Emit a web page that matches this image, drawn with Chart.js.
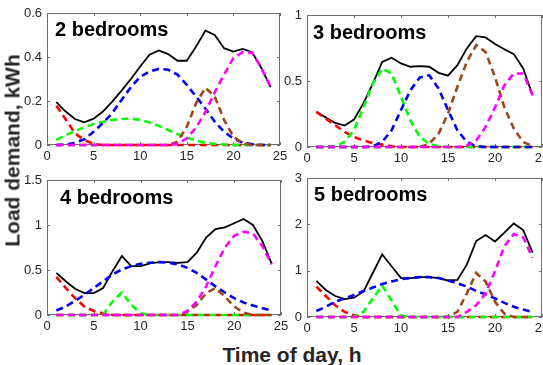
<!DOCTYPE html>
<html>
<head>
<meta charset="utf-8">
<script src="https://cdn.jsdelivr.net/npm/chart.js@4.4.1/dist/chart.umd.min.js"></script>
<style>
  html, body { margin:0; padding:0; width:543px; height:365px; overflow:hidden; background:#fff; }
  canvas { position:absolute; }
  .title { position:absolute; font-family:'Liberation Sans', Arial, sans-serif; font-weight:bold; font-size:20px; line-height:20px; color:#000; white-space:nowrap; }
  .axlabel { position:absolute; font-family:'Liberation Sans', Arial, sans-serif; font-weight:bold; font-size:21px; line-height:21px; color:#262626; white-space:nowrap; text-align:center; }
</style>
</head>
<body>
<canvas id="c1"></canvas>
<canvas id="c2"></canvas>
<canvas id="c3"></canvas>
<canvas id="c4"></canvas>
<div class="title" style="left:55px; top:19px;">2 bedrooms</div>
<div class="title" style="left:313px; top:22px;">3 bedrooms</div>
<div class="title" style="left:60px; top:187px;">4 bedrooms</div>
<div class="title" style="left:314px; top:184px;">5 bedrooms</div>
<div class="axlabel" style="left:-138px; top:140px; width:300px; transform:rotate(-90deg);">Load demand, kWh</div>
<div class="axlabel" style="left:142px; top:344px; width:300px;">Time of day, h</div>
<script>
const hours = [1,2,3,4,5,6,7,8,9,10,11,12,13,14,15,16,17,18,19,20,21,22,23,24];
const xTicks = [0,5,10,15,20,25];

// 2 bedrooms
const total2   = [0.195,0.152,0.118,0.103,0.12,0.152,0.197,0.247,0.30,0.357,0.41,0.43,0.413,0.383,0.383,0.448,0.52,0.50,0.44,0.425,0.437,0.422,0.35,0.263];
const red2     = [0.178,0.117,0.053,0.023,0.005,0,0,0,0,0,0,0,0,0,0,0,0,0,0,0,0,0,0,0];
const green2   = [0.023,0.045,0.064,0.08,0.096,0.106,0.114,0.118,0.12,0.114,0.102,0.087,0.068,0.05,0.033,0.02,0.01,0.005,0.002,0,0,0,0,0];
const blue2    = [0,0.002,0.01,0.026,0.06,0.1,0.145,0.205,0.263,0.31,0.334,0.346,0.342,0.32,0.273,0.22,0.165,0.106,0.06,0.03,0.01,0.004,0,0];
const brown2   = [0,0,0,0,0,0,0,0,0,0,0,0,0,0.015,0.083,0.19,0.26,0.22,0.114,0.038,0.008,0,0,0];
const magenta2 = [0,0,0,0,0,0,0,0,0,0,0,0,0,0.005,0.03,0.08,0.15,0.24,0.32,0.395,0.422,0.42,0.35,0.263];

// 3 bedrooms
const total3   = [0.266,0.223,0.182,0.162,0.208,0.33,0.48,0.645,0.676,0.633,0.608,0.613,0.608,0.562,0.54,0.62,0.747,0.84,0.83,0.78,0.74,0.704,0.595,0.392];
const red3     = [0.266,0.215,0.165,0.114,0.076,0.05,0.03,0.018,0.006,0,0,0,0,0,0,0,0,0,0,0,0,0,0,0];
const green3   = [0,0,0.005,0.038,0.127,0.30,0.48,0.595,0.557,0.38,0.2,0.076,0.025,0.006,0,0,0,0,0,0,0,0,0,0];
const blue3    = [0,0,0,0,0,0,0.005,0.038,0.127,0.28,0.43,0.527,0.544,0.443,0.28,0.127,0.038,0.006,0,0,0,0,0,0];
const brown3   = [0,0,0,0,0,0,0,0,0,0,0,0,0.025,0.1,0.253,0.456,0.645,0.772,0.72,0.53,0.30,0.14,0.038,0.006];
const magenta3 = [0,0,0,0,0,0,0,0,0,0,0,0,0,0,0,0,0.01,0.05,0.152,0.30,0.468,0.557,0.557,0.392];

// 4 bedrooms
const total4   = [0.468,0.375,0.292,0.243,0.243,0.30,0.487,0.655,0.543,0.543,0.573,0.588,0.588,0.58,0.588,0.693,0.86,0.955,0.974,1.02,1.067,1.0,0.824,0.57];
const red4     = [0.423,0.30,0.187,0.094,0.045,0.02,0,0,0,0,0,0,0,0,0,0,0,0,0,0,0,0,0,0];
const green4   = [0,0,0,0,0,0.005,0.15,0.25,0.112,0.02,0,0,0,0,0,0,0,0,0,0,0,0,0,0];
const blue4    = [0.05,0.094,0.157,0.225,0.30,0.375,0.45,0.506,0.543,0.57,0.58,0.588,0.58,0.562,0.524,0.468,0.393,0.318,0.25,0.187,0.139,0.105,0.075,0.05];
const brown4   = [0,0,0,0,0,0,0,0,0,0,0,0,0,0,0.037,0.112,0.243,0.30,0.206,0.094,0.026,0,0,0];
const magenta4 = [0,0,0,0,0,0,0,0,0,0,0,0,0,0,0.045,0.15,0.318,0.543,0.75,0.88,0.925,0.906,0.768,0.562];

// 5 bedrooms
const total5   = [0.78,0.584,0.453,0.387,0.416,0.547,0.95,1.35,1.095,0.84,0.84,0.86,0.86,0.84,0.788,0.80,1.13,1.64,1.77,1.63,1.82,2.02,1.875,1.39];
const red5     = [0.657,0.453,0.255,0.11,0.036,0,0,0,0,0,0,0,0,0,0,0,0,0,0,0,0,0,0,0];
const green5   = [0,0,0,0,0.005,0.11,0.40,0.68,0.35,0.03,0,0,0,0,0,0,0,0,0,0,0,0,0,0];
const blue5    = [0.13,0.22,0.33,0.40,0.475,0.56,0.635,0.71,0.766,0.817,0.84,0.86,0.86,0.84,0.788,0.73,0.657,0.56,0.49,0.40,0.306,0.22,0.16,0.11];
const brown5   = [0,0,0,0,0,0,0,0,0,0,0,0,0,0,0,0.11,0.51,0.95,0.766,0.33,0.07,0,0,0];
const magenta5 = [0,0,0,0,0,0,0,0,0,0,0,0,0,0,0,0,0.11,0.255,0.51,0.985,1.53,1.79,1.715,1.28];

const yTicks2 = [0,0.2,0.4,0.6];
const yTicks3 = [0,0.5,1];
const yTicks4 = [0,0.5,1,1.5];
const yTicks5 = [0,1,2,3];

const FONT = "'Liberation Sans', Arial, sans-serif";
const Y_AXIS_W = 47, PAD_TOP = 13, PAD_RIGHT = 30, X_AXIS_H = 25;

const boxPlugin = {
  id: 'boxTicks',
  beforeDatasetsDraw(chart) {
    const {ctx, chartArea: a, scales} = chart;
    ctx.save();
    ctx.strokeStyle = '#6e6e6e';
    ctx.lineWidth = 1;
    ctx.strokeRect(Math.round(a.left) + 0.5, Math.round(a.top) + 0.5, Math.round(a.right - a.left) - 1, Math.round(a.bottom - a.top) - 1);
    const tl = 3;
    ctx.beginPath();
    scales.x.ticks.forEach(t => {
      const px = Math.round(scales.x.getPixelForValue(t.value)) + 0.5;
      ctx.moveTo(px, a.bottom); ctx.lineTo(px, a.bottom - tl);
      ctx.moveTo(px, a.top); ctx.lineTo(px, a.top + tl);
    });
    scales.y.ticks.forEach(t => {
      const py = Math.round(scales.y.getPixelForValue(t.value)) + 0.5;
      ctx.moveTo(a.left, py); ctx.lineTo(a.left + tl, py);
      ctx.moveTo(a.right, py); ctx.lineTo(a.right - tl, py);
    });
    ctx.stroke();
    ctx.restore();
  }
};

function series(vals) { return hours.map((h, i) => ({x: h, y: vals[i]})); }

function dashed(vals, color, order) {
  return { data: series(vals), borderColor: color, borderWidth: 2.6, borderDash: [7, 4.5],
           pointRadius: 0, tension: 0, fill: false, order: order, clip: false };
}

function makeChart(id, L, T, R, B, sets, yTicks) {
  const cv = document.getElementById(id);
  const w = (R - L) + Y_AXIS_W + PAD_RIGHT;
  const h = (B - T) + PAD_TOP + X_AXIS_H;
  cv.width = w; cv.height = h;
  cv.style.left = (L - Y_AXIS_W) + 'px';
  cv.style.top = (T - PAD_TOP) + 'px';
  cv.style.width = w + 'px'; cv.style.height = h + 'px';
  const yMax = yTicks[yTicks.length - 1];
  new Chart(cv, {
    type: 'line',
    data: {
      datasets: [
        { data: series(sets[0]), borderColor: '#000000', borderWidth: 1.8, pointRadius: 0, tension: 0, fill: false, order: 6, clip: false },
        dashed(sets[1], '#ff0000', 5),
        dashed(sets[2], '#00ff00', 4),
        dashed(sets[3], '#0000ff', 3),
        dashed(sets[4], '#a0461a', 2),
        dashed(sets[5], '#ff00ff', 1)
      ]
    },
    options: {
      responsive: false,
      devicePixelRatio: 1,
      animation: false,
      layout: { padding: { top: PAD_TOP, right: PAD_RIGHT, bottom: 0, left: 0 } },
      plugins: { legend: { display: false }, tooltip: { enabled: false }, title: { display: false } },
      scales: {
        x: {
          type: 'linear', min: 0, max: 25,
          afterBuildTicks: s => { s.ticks = xTicks.map(v => ({value: v})); },
          afterFit: s => { s.height = X_AXIS_H; },
          grid: { display: false, drawTicks: false },
          border: { display: false },
          ticks: { color: '#262626', font: { family: FONT, size: 13 }, padding: 4, maxRotation: 0, autoSkip: false }
        },
        y: {
          type: 'linear', min: 0, max: yMax,
          afterBuildTicks: s => { s.ticks = yTicks.map(v => ({value: v})); },
          afterFit: s => { s.width = Y_AXIS_W; },
          grid: { display: false, drawTicks: false },
          border: { display: false },
          ticks: { color: '#262626', font: { family: FONT, size: 13 }, padding: 5, autoSkip: false,
                   callback: v => String(v) }
        }
      }
    },
    plugins: [boxPlugin]
  });
}

makeChart('c1', 47, 13, 280, 145, [total2, red2, green2, blue2, brown2, magenta2], yTicks2);
makeChart('c2', 307, 15, 542, 147, [total3, red3, green3, blue3, brown3, magenta3], yTicks3);
makeChart('c3', 47, 180, 281, 315, [total4, red4, green4, blue4, brown4, magenta4], yTicks4);
makeChart('c4', 307, 178, 542, 317, [total5, red5, green5, blue5, brown5, magenta5], yTicks5);
</script>
</body>
</html>
